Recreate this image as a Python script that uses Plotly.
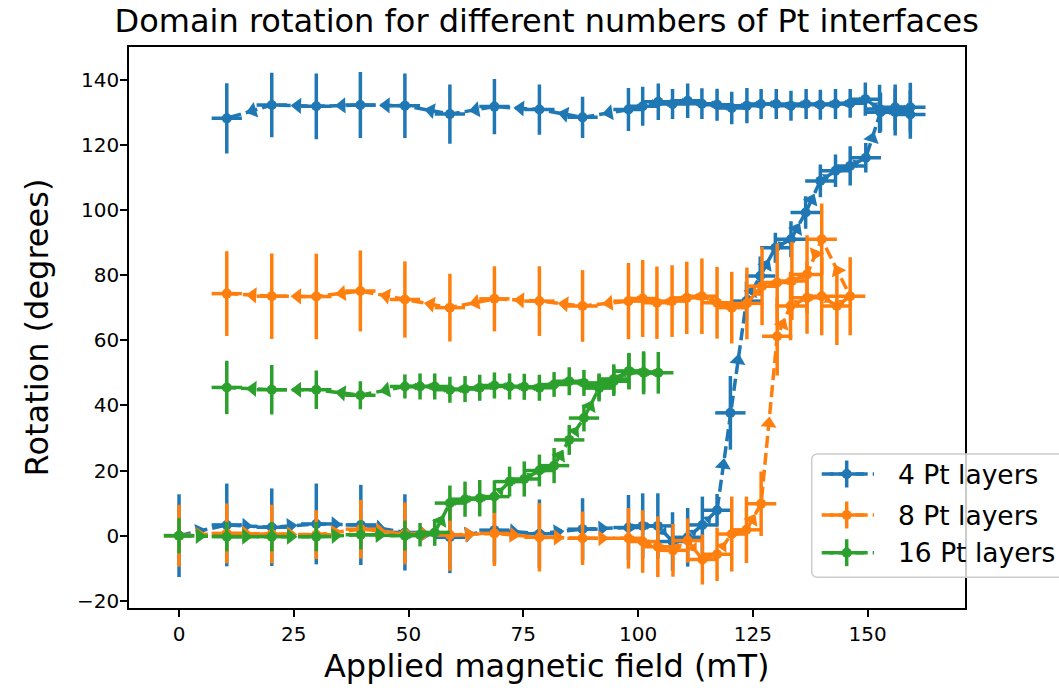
import math
import plotly.graph_objects as go

BLUE, ORANGE, GREEN = "#1f77b4", "#ff7f0e", "#2ca02c"

# ---------------- data ----------------
# Field in mT, rotation and its uncertainty in degrees.
# Each sample is swept up in field, then back down.

pt4_up_field = [0, 10.4, 20.2, 29.9, 39.6, 49.2, 59.0, 68.7, 78.5, 87.9, 97.9, 101.0, 104.3,
                107.5, 110.8, 114.0, 117.2, 120.1, 123.6, 126.6, 129.9, 133.3, 136.5, 139.7,
                143.0, 146.2, 149.6, 152.8, 156.0, 159.3]
pt4_up_rot = [0, 3.3, 2.6, 3.6, 3.3, 1.0, -0.5, 1.7, 0.6, 2.0, 2.5, 3.0, 3.0,
              -1.8, -0.5, 3.3, 7.8, 37.7, 72.0, 79.7, 88.4, 91.0, 99.2, 108.9,
              112.0, 113.5, 116.0, 130.0, 131.5, 129.3]
pt4_up_err = [12.7, 12.7, 11.9, 12.4, 12.3, 11.7, 11.0, 10.0, 10.5, 9.5, 10.0, 10.0, 10.0,
              9.0, 9.0, 8.7, 5.0, 11.3, 6.0, 6.0, 4.6, 5.5, 5.0, 5.0,
              5.0, 6.0, 4.5, 6.0, 7.0, 7.5]
pt4_down_field = [159.3, 156.0, 152.6, 149.5, 146.2, 143.0, 139.7, 136.6, 133.3, 130.1, 126.8,
                  123.7, 120.4, 117.2, 113.9, 110.8, 107.5, 104.4, 101.0, 97.9, 87.9, 78.5,
                  68.7, 59.0, 49.2, 39.5, 29.9, 20.2, 10.4]
pt4_down_rot = [131.5, 130.0, 131.0, 134.0, 132.7, 132.5, 132.3, 132.5, 132.0, 132.5, 132.5,
                132.0, 131.3, 132.3, 132.6, 133.5, 132.5, 133.2, 131.8, 130.8, 128.4, 130.8,
                131.7, 129.4, 132.0, 132.2, 131.8, 132.2, 128.1]
pt4_down_err = [7.5, 7.2, 7.4, 5.1, 4.4, 4.6, 4.6, 4.6, 4.6, 4.6, 4.6,
                5.4, 5.0, 4.9, 4.7, 5.3, 4.6, 5.6, 6.0, 6.6, 6.3, 7.7,
                8.5, 9.1, 9.9, 10.1, 10.1, 9.9, 10.8]

pt8_up_field = [0, 10.4, 20.2, 29.9, 39.6, 49.2, 59.0, 68.7, 78.5, 87.9, 97.9, 101.0, 104.3,
                107.6, 110.8, 114.0, 117.2, 120.4, 123.6, 126.8, 130.3, 133.2, 136.8, 140.0,
                143.3, 146.2]
pt8_up_rot = [0, 0.7, 0.5, 0.3, 2.0, 0.7, 0.2, 0.7, -0.5, -0.8, -0.8, -1.8, -3.4,
              -4.5, -1.5, -7.3, -5.7, 0.5, 1.8, 9.8, 61.2, 70.5, 73.0, 73.5,
              70.5, 73.5]
pt8_up_err = [9.5, 9.2, 9.0, 7.5, 9.0, 9.5, 11.0, 10.0, 10.5, 8.2, 9.3, 9.6, 9.3,
              8.1, 6.8, 7.7, 8.2, 11.5, 10.2, 9.9, 12.0, 10.5, 11.0, 12.0,
              12.0, 12.0]
pt8_down_field = [140.0, 136.8, 133.5, 130.3, 127.0, 123.7, 120.4, 117.2, 113.9, 110.6, 107.4,
                  104.1, 101.0, 97.9, 87.9, 78.5, 68.7, 59.0, 49.2, 39.5, 29.9, 20.2, 10.4]
pt8_down_rot = [91.0, 80.2, 78.2, 77.7, 76.6, 71.3, 70.0, 71.5, 73.5, 73.0, 72.0,
                71.5, 72.8, 72.0, 70.5, 72.0, 72.7, 70.0, 72.5, 75.1, 73.4, 73.5, 74.3]
pt8_down_err = [11.0, 12.0, 12.0, 12.0, 12.0, 11.0, 11.0, 11.0, 11.6, 11.1, 11.0,
                11.1, 11.8, 11.7, 11.0, 10.7, 10.0, 10.4, 11.7, 12.4, 13.1, 13.1, 13.0]

pt16_up_field = [0, 10.4, 20.2, 29.9, 39.6, 49.2, 52.5, 55.7, 59.0, 62.3, 65.5, 68.7, 72.0,
                 75.2, 78.5, 81.7, 85.0, 88.2, 91.5, 94.7, 98.0, 101.2, 104.4]
pt16_up_rot = [0, -0.3, -0.3, -0.3, 0.3, 0.0, 0.3, 1.0, 10.0, 11.2, 11.5, 12.0, 16.6,
               17.4, 20.0, 21.5, 29.4, 36.1, 45.3, 47.4, 50.5, 50.0, 50.0]
pt16_up_err = [5.4, 4.5, 4.5, 4.5, 4.5, 4.6, 3.6, 4.1, 5.4, 5.4, 5.6, 5.0, 4.6,
               5.4, 4.9, 5.4, 4.6, 4.1, 4.1, 4.5, 5.6, 6.6, 6.4]
pt16_down_field = [101.2, 98.0, 94.7, 91.5, 88.2, 85.0, 81.7, 78.5, 75.2, 72.0, 68.7, 65.5,
                   62.3, 59.0, 55.7, 52.5, 49.2, 39.5, 29.9, 20.2, 10.4]
pt16_down_rot = [50.2, 50.5, 48.1, 45.8, 46.9, 47.4, 46.4, 45.4, 45.7, 45.8, 46.1, 45.4,
                 45.0, 44.8, 45.8, 45.8, 45.8, 43.1, 44.8, 44.8, 45.5]
pt16_down_err = [6.0, 5.5, 4.5, 4.0, 4.0, 4.3, 3.8, 4.0, 4.0, 4.0, 4.0, 4.0,
                 4.0, 4.0, 4.0, 4.0, 3.7, 4.3, 5.9, 7.6, 8.2]

field_err = 3.3  # mT, same for every point

series_labels = ["4 Pt layers", "8 Pt layers", "16 Pt layers"]
x_ticks = [0, 25, 50, 75, 100, 125, 150]
y_ticks = [-20, 0, 20, 40, 60, 80, 100, 120, 140]

# ---------------- geometry ----------------
W, H = 1059, 696
M_L, M_T, M_B, M_R = 129, 47, 88, 0
PLOT_W = 835.5
PLOT_H = H - M_T - M_B
X_RANGE = [-10.9, 171.1]
Y_RANGE = [-22.2, 150.0]
SX = PLOT_W / (X_RANGE[1] - X_RANGE[0])   # px per mT
SY = PLOT_H / (Y_RANGE[1] - Y_RANGE[0])   # px per degree

FONT = "DejaVu Sans"
LW = 3.5
DASH = "12px,5px"
MARKER = 10

series = [
    (series_labels[0], BLUE, pt4_up_field + pt4_down_field, pt4_up_rot + pt4_down_rot,
     pt4_up_err + pt4_down_err),
    (series_labels[1], ORANGE, pt8_up_field + pt8_down_field, pt8_up_rot + pt8_down_rot,
     pt8_up_err + pt8_down_err),
    (series_labels[2], GREEN, pt16_up_field + pt16_down_field, pt16_up_rot + pt16_down_rot,
     pt16_up_err + pt16_down_err),
]


def arrow_points(xs, ys):
    """Arrowheads half-way along each segment, rotated to the sweep direction."""
    ax, ay, sz, ang = [], [], [], []
    full = 14.0
    for i in range(len(xs) - 1):
        dx, dy = xs[i + 1] - xs[i], ys[i + 1] - ys[i]
        px, py = dx * SX, dy * SY
        half = 0.5 * math.hypot(px, py)
        if half < 2.5:
            continue
        # tip lands near the segment midpoint
        back = 0.25 * full * min(1.0, half / 15.0)
        ux, uy = px / (2 * half), py / (2 * half)
        ax.append(xs[i] + dx / 2 - back * ux / SX)
        ay.append(ys[i] + dy / 2 - back * uy / SY)
        sz.append(full * min(1.0, half / 15.0))
        ang.append(math.degrees(math.atan2(px, py)))
    return ax, ay, sz, ang


fig = go.Figure()
for name, color, xs, ys, es in series:
    fig.add_trace(go.Scatter(
        x=xs, y=ys, mode="lines+markers", name=name, showlegend=False,
        line=dict(color=color, width=LW, dash=DASH),
        marker=dict(color=color, size=MARKER),
        error_y=dict(type="data", array=es, color=color, thickness=LW, width=0),
        error_x=dict(type="constant", value=field_err, color=color, thickness=LW, width=0),
    ))
    ax, ay, sz, ang = arrow_points(xs, ys)
    fig.add_trace(go.Scatter(
        x=ax, y=ay, mode="markers", showlegend=False, hoverinfo="skip",
        marker=dict(symbol="triangle-up", size=sz, angle=ang, color=color, opacity=1,
                    line=dict(width=0)),
    ))

# ---------------- legend (drawn on a pixel-space overlay) ----------------
leg_left, leg_top, leg_bot, leg_right, rad = 811.7, 454.0, 577.3, 1075.0, 6.0
leg_rows = [474.0, 515.0, 552.7]
handle_l, handle_r, handle_c = 821.7, 874.0, 846.7

box_path = (f"M{leg_left + rad},{leg_top} L{leg_right - rad},{leg_top} "
            f"Q{leg_right},{leg_top} {leg_right},{leg_top + rad} "
            f"L{leg_right},{leg_bot - rad} Q{leg_right},{leg_bot} {leg_right - rad},{leg_bot} "
            f"L{leg_left + rad},{leg_bot} Q{leg_left},{leg_bot} {leg_left},{leg_bot - rad} "
            f"L{leg_left},{leg_top + rad} Q{leg_left},{leg_top} {leg_left + rad},{leg_top} Z")
fig.add_shape(type="path", path=box_path, xref="x2", yref="y2", layer="below",
              fillcolor="rgba(255,255,255,0.8)", line=dict(color="#cccccc", width=1.5))

for (name, color, *_), row in zip(series, leg_rows):
    fig.add_trace(go.Scatter(
        x=[handle_l, handle_r], y=[row, row], mode="lines", xaxis="x2", yaxis="y2",
        showlegend=False, hoverinfo="skip", line=dict(color=color, width=LW, dash=DASH),
    ))
    fig.add_trace(go.Scatter(
        x=[handle_c], y=[row], mode="markers", xaxis="x2", yaxis="y2",
        showlegend=False, hoverinfo="skip", marker=dict(color=color, size=MARKER),
        error_x=dict(type="constant", value=17, color=color, thickness=LW, width=0),
        error_y=dict(type="constant", value=13.5, color=color, thickness=LW, width=0),
    ))
    fig.add_annotation(x=896, y=row, xref="x2", yref="y2", text=name, showarrow=False,
                       xanchor="left", yanchor="middle",
                       font=dict(family=FONT, size=26.5, color="black"))

axis_common = dict(
    showline=True, mirror=True, linecolor="black", linewidth=1.6,
    ticks="outside", ticklen=7, tickwidth=1.6, tickcolor="black",
    showgrid=False, zeroline=False,
    tickfont=dict(family=FONT, size=20, color="black"),
)

fig.update_layout(
    width=W, height=H,
    margin=dict(l=M_L, r=M_R, t=M_T, b=M_B, pad=0),
    paper_bgcolor="white", plot_bgcolor="rgba(0,0,0,0)",
    font=dict(family=FONT, color="black"),
    title=dict(text="Domain rotation for different numbers of Pt interfaces",
               x=(546.75 - M_L) / (W - M_L - M_R), xref="paper", xanchor="center",
               y=1 - 21 / H, yref="container", yanchor="middle",
               font=dict(family=FONT, size=32, color="black")),
    xaxis=dict(domain=[0, PLOT_W / (W - M_L - M_R)], range=X_RANGE, tickvals=x_ticks,
               title=dict(text="Applied magnetic field (mT)", standoff=10,
                          font=dict(family=FONT, size=32, color="black")),
               **axis_common),
    yaxis=dict(domain=[0, 1], range=Y_RANGE, tickvals=y_ticks, ticklabelstandoff=-3,
               title=dict(text="Rotation (degrees)", standoff=19,
                          font=dict(family=FONT, size=32, color="black")),
               **axis_common),
    xaxis2=dict(domain=[0, 1], range=[M_L, W - M_R], visible=False, anchor="y2",
                fixedrange=True),
    yaxis2=dict(domain=[0, 1], range=[H - M_B, M_T], visible=False, anchor="x2",
                fixedrange=True),
)

fig.write_html("out.html")
